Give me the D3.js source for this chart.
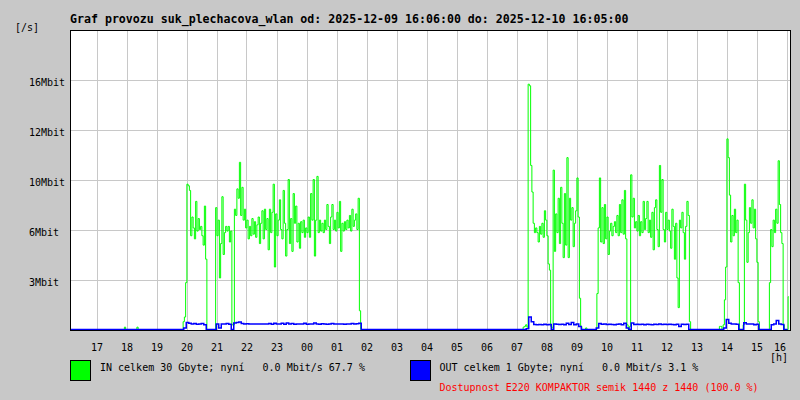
<!DOCTYPE html>
<html><head><meta charset="utf-8">
<script src="https://cdn.jsdelivr.net/npm/d3@7"></script>
<style>
html,body{margin:0;padding:0;background:#c8c8c8;}
svg{display:block;}
text{font-family:"DejaVu Sans Mono",monospace;white-space:pre;}
</style></head><body>
<svg id="c" width="800" height="400"></svg>
<script>
const title = "Graf provozu suk_plechacova_wlan od: 2025-12-09 16:06:00 do: 2025-12-10 16:05:00";
const startTime = new Date(2025, 11, 9, 16, 6);
const inStepMinutes = 2.5;
const outStepMinutes = 5;
// IN [Mbit/s], one value per 2.5 minutes from 16:06 (one row = one hour)
const inValues = [
0,0,0,0,0,0,0,0,0,0,0,0,0,0,0,0,0,0,0,0,0,0,0,0,
0,0,0,0,0,0,0,0,0,0,0,0,0,0,0,0,0,0,0,0,0.15,0,0,0,
0,0,0,0,0,0,0.15,0,0,0,0,0,0,0,0,0,0,0,0,0,0,0,0,0,
0,0,0,0,0,0,0,0,0,0,0,0,0,0,0,0,0,0,0,0.5,0.8,3.0,9.3,9.2,
8.9,6.0,7.2,6.5,5.8,8.2,6.3,7.1,6.4,6.6,6.0,5.4,7.9,4.5,0,0,0,0,0,0,0,7.8,6.0,7.0,
3.3,5.5,8.5,4.8,6.2,6.6,6.3,6.6,5.6,6.3,0.3,0.3,7.7,7.3,9.0,8.4,10.7,7.3,9.1,7.0,7.7,6.5,7.0,5.8,
6.6,6.0,7.1,6.1,6.9,5.9,6.7,7.2,5.5,6.8,7.6,5.8,7.7,6.4,7.1,5.1,7.7,6.2,7.5,9.3,4.0,7.4,6.0,7.0,
8.3,6.4,5.8,8.9,6.8,4.7,6.4,9.6,5.5,7.1,5.0,8.7,6.8,7.9,5.6,6.8,5.2,6.9,6.2,7.0,5.9,6.5,6.2,7.2,
5.9,8.7,7.0,9.6,4.7,7.0,9.8,6.2,7.0,6.3,6.8,6.2,7.0,6.4,8.0,6.6,5.5,7.2,8.0,6.4,7.0,6.3,7.5,6.5,
8.2,5.0,6.8,6.3,6.9,6.4,7.0,6.5,7.3,6.3,7.7,6.6,7.0,7.4,6.4,8.4,1.2,0,0,0,0,0,0,0,
0,0,0,0,0,0,0,0,0,0,0,0,0,0,0,0,0,0,0,0,0,0,0,0,
0,0,0,0,0,0,0,0,0,0,0,0,0,0,0,0,0,0,0,0,0,0,0,0,
0,0,0,0,0,0,0,0,0,0,0,0,0,0,0,0,0,0,0,0,0,0,0,0,
0,0,0,0,0,0,0,0,0,0,0,0,0,0,0,0,0,0,0,0,0,0,0,0,
0,0,0,0,0,0,0,0,0,0,0,0,0,0,0,0,0,0,0,0,0,0,0,0,
0,0,0,0.15,0.2,0.3,0.15,15.7,15.6,10.5,8.8,6.8,6.2,6.5,6.2,5.6,6.6,6.1,6.8,5.9,7.6,7.0,6.0,4.2,
3.8,0.2,0.1,10.2,5.0,7.4,6.2,8.4,5.5,9.1,6.8,4.6,8.7,5.4,11.0,4.6,8.4,7.0,7.8,5.3,6.8,7.6,9.7,7.2,
2.0,0.2,0,0,0,0.1,0,0,0,0,0,0,0,0,2.3,6.5,9.7,5.6,7.8,5.5,8.0,5.8,7.2,4.8,
6.3,6.8,6.0,6.6,6.9,6.2,7.3,6.0,8.0,6.2,8.3,6.1,8.9,5.8,0.3,0,0.2,9.9,7.2,8.4,6.5,6.9,6.3,7.3,
6.0,6.9,6.2,8.2,6.4,7.1,8.2,6.2,7.0,5.9,7.5,5.1,7.8,8.3,6.4,5.3,10.5,7.5,9.6,6.4,5.6,7.5,6.4,7.0,
6.3,5.2,7.7,6.6,4.5,6.8,3.3,1.4,7.0,6.5,7.5,6.2,4.5,6.6,8.2,7.3,0.5,0,0,0,0,0,0,0,
0,0,0,0,0,0,0,0,0,0,0,0,0,0,0,0,0.2,0.2,0,0.3,1.9,4.0,12.2,11.0,
8.6,5.6,7.3,6.0,7.7,6.2,7.0,3.0,0,0,0,0.3,9.3,7.0,4.3,6.2,7.8,6.8,8.3,6.5,7.7,5.8,4.3,0.5,
0,0,0,0,0,0,0,0,3.0,6.4,5.3,7.0,6.2,7.7,6.8,10.8,8.0,6.2,5.5,0.3,0,0,0,2.1
];
// OUT [Mbit/s], one value per 5 minutes from 16:06
const outValues = [
0,0,0,0,0,0,0,0,0,0,0,0,
0,0,0,0,0,0,0,0,0,0,0,0,
0,0,0,0,0,0,0,0,0,0,0,0,
0,0,0,0,0,0,0,0,0,0,0.1,0.45,
0.4,0.35,0.38,0.33,0.36,0.38,0.3,0,0,0,0,0.36,
0.1,0.36,0.35,0.38,0.34,0,0.42,0.45,0.48,0.38,0.36,0.37,
0.36,0.35,0.36,0.36,0.35,0.36,0.35,0.36,0.38,0.34,0.4,0.36,
0.35,0.4,0.33,0.42,0.36,0.38,0.33,0.35,0.36,0.36,0.4,0.34,
0.36,0.35,0.42,0.36,0.33,0.37,0.36,0.34,0.36,0.38,0.35,0.36,
0.35,0.36,0.34,0.36,0.35,0.38,0.36,0.37,0.4,0,0,0,
0,0,0,0,0,0,0,0,0,0,0,0,
0,0,0,0,0,0,0,0,0,0,0,0,
0,0,0,0,0,0,0,0,0,0,0,0,
0,0,0,0,0,0,0,0,0,0,0,0,
0,0,0,0,0,0,0,0,0,0,0,0,
0,0,0,0.05,0.8,0.5,0.32,0.3,0.32,0.3,0.33,0.3,
0.32,0,0.36,0.33,0.32,0.34,0.3,0.4,0.32,0.45,0.3,0.36,
0.2,0,0,0,0,0,0,0.1,0.38,0.33,0.35,0.32,
0.33,0.32,0.3,0.33,0.35,0.3,0.4,0.1,0,0.42,0.32,0.33,
0.32,0.33,0.3,0.34,0.32,0.31,0.33,0.32,0.35,0.32,0.33,0.32,
0.33,0.32,0.3,0.34,0.2,0.33,0.32,0.34,0,0,0,0,
0,0,0,0,0,0,0,0,0,0,0.1,0.64,
0.4,0.35,0.36,0.33,0,0,0.43,0.36,0.35,0.36,0.3,0.33,
0,0,0,0,0,0.3,0.35,0.58,0.35,0.32,0,0
];
const yTickValues = [3.2, 6.4, 9.6, 12.8, 16];
const yTickLabels = ["3Mbit", "6Mbit", "10Mbit", "12Mbit", "16Mbit"];
const yMax = 19.2;
const xTickLabels = ["17","18","19","20","21","22","23","00","01","02","03","04","05","06","07","08","09","10","11","12","13","14","15","16"];
const yUnit = "[/s]";
const xUnit = "[h]";
const legendIn = "IN celkem 30 Gbyte; nyní   0.0 Mbit/s 67.7 %";
const legendOut = "OUT celkem 1 Gbyte; nyní   0.0 Mbit/s 3.1 %";
const availability = "Dostupnost E220 KOMPAKTOR semik 1440 z 1440 (100.0 %)";

const svg = d3.select("#c");
const L = 70, R = 790, T = 30, B = 330;
const endTime = d3.timeMinute.offset(startTime, 1440);
const x = d3.scaleTime().domain([startTime, endTime]).range([L, R]);
const y = d3.scaleLinear().domain([0, yMax]).range([B, T]);

svg.append("rect").attr("width", 800).attr("height", 400).attr("fill", "#c8c8c8");
svg.append("rect").attr("x", L).attr("y", T).attr("width", R - L).attr("height", B - T).attr("fill", "#fff");

// grid
const hours = d3.timeHour.range(d3.timeHour.ceil(startTime), endTime);
svg.append("g").selectAll("line").data(hours).join("line")
  .attr("x1", d => Math.floor(x(d)) + 0.5).attr("x2", d => Math.floor(x(d)) + 0.5)
  .attr("y1", T).attr("y2", B).attr("stroke", "#c8c8c8").attr("stroke-width", 1);
svg.append("g").selectAll("line").data(yTickValues).join("line")
  .attr("x1", L).attr("x2", R)
  .attr("y1", d => Math.round(y(d)) + 0.5).attr("y2", d => Math.round(y(d)) + 0.5)
  .attr("stroke", "#c8c8c8").attr("stroke-width", 1);

// data
const pts = (arr, step) => arr.map((v, i) => ({t: new Date(startTime.getTime() + i * step * 60000), v}));
const line = d3.line().x(d => x(d.t)).y(d => y(d.v) - 0.5).curve(d3.curveStep);
svg.append("path").datum(pts(inValues, inStepMinutes)).attr("d", line)
  .attr("fill", "none").attr("stroke", "#00ff00").attr("stroke-width", 1);
svg.append("path").datum(pts(outValues, outStepMinutes)).attr("d", line)
  .attr("fill", "none").attr("stroke", "#0000ff").attr("stroke-width", 1.5);

// frame
svg.append("rect").attr("x", L + 0.5).attr("y", T + 0.5).attr("width", R - L).attr("height", B - T)
  .attr("fill", "none").attr("stroke", "#000").attr("stroke-width", 1);

// labels
svg.append("text").attr("x", L).attr("y", 22.5).attr("font-size", "11.6px").attr("font-weight", "bold").text(title);
svg.append("text").attr("x", 15).attr("y", 31).attr("font-size", "10px").text(yUnit);
svg.append("g").selectAll("text").data(yTickValues).join("text")
  .attr("x", 29).attr("y", d => Math.round(y(d)) + 6).attr("font-size", "10px")
  .text((d, i) => yTickLabels[i]);
svg.append("g").selectAll("text").data(hours).join("text")
  .attr("x", d => Math.min(x(d), 780)).attr("y", 351).attr("font-size", "10px").attr("text-anchor", "middle")
  .text((d, i) => xTickLabels[i]);
svg.append("text").attr("x", 770).attr("y", 360.5).attr("font-size", "10px").text(xUnit);

// legend
svg.append("rect").attr("x", 70.5).attr("y", 360.5).attr("width", 20).attr("height", 20).attr("fill", "#00ff00").attr("stroke", "#000");
svg.append("rect").attr("x", 410.5).attr("y", 360.5).attr("width", 20).attr("height", 20).attr("fill", "#0000ff").attr("stroke", "#000");
svg.append("text").attr("x", 100).attr("y", 371).attr("font-size", "10px").text(legendIn);
svg.append("text").attr("x", 439.5).attr("y", 371).attr("font-size", "10px").text(legendOut);
svg.append("text").attr("x", 439.5).attr("y", 391).attr("font-size", "10px").attr("fill", "#ff0000").text(availability);
</script></body></html>
